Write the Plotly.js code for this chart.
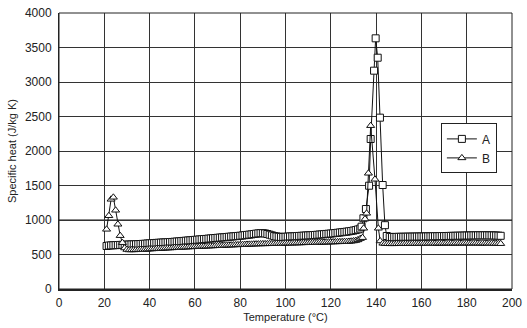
<!DOCTYPE html>
<html>
<head>
<meta charset="utf-8">
<script src="https://cdn.plot.ly/plotly-3.0.1.min.js"></script>
<style>html,body{margin:0;padding:0;background:#fff;}#chart{width:527px;height:328px;}</style>
</head>
<body>
<div id="chart"></div>
<script>
var tempA = [21,22,23,24,25,26,27,28,29,30,
  31,32,33,34,35,36,37,38,39,40,
  41,42,43,44,45,46,47,48,49,50,
  51,52,53,54,55,56,57,58,59,60,
  61,62,63,64,65,66,67,68,69,70,
  71,72,73,74,75,76,77,78,79,80,
  81,82,83,84,85,86,87,88,89,90,
  91,92,93,94,95,96,97,98,99,100,
  101,102,103,104,105,106,107,108,109,110,
  111,112,113,114,115,116,117,118,119,120,
  121,122,123,124,125,126,127,128,129,130,
  131,132,133,133.6,134.4,135.5,136.9,137.6,139.1,139.8,140.7,141.7,142.9,143.9,144.7,
  146,147,148,149,150,151,152,153,154,155,156,157,158,159,160,
  161,162,163,164,165,166,167,168,169,170,171,172,173,174,175,
  176,177,178,179,180,181,182,183,184,185,186,187,188,189,190,
  191,192,193,194,195];
var cpA = [623,630,632,634,636,637,639,640,641,643,
  644,646,647,649,650,652,654,656,659,662,
  664,665,668,670,672,674,676,678,680,682,
  685,688,690,694,697,700,703,706,709,712,
  714,718,721,724,726,730,733,736,739,742,
  745,748,750,754,757,760,763,766,769,772,
  776,780,784,788,792,797,802,806,809,809,
  805,797,787,777,767,761,757,755,755,757,
  759,761,763,764,767,769,771,773,775,777,
  779,781,783,786,789,792,795,798,801,804,
  807,811,815,819,823,827,831,836,841,847,
  854,863,876,903,1025,1159,1497,2174,3164,3633,3352,2483,1507,925,768,
  755,754,754,755,756,756,757,757,758,758,759,759,760,760,761,
  761,762,763,763,764,765,765,766,767,767,768,769,770,770,771,
  772,772,773,774,775,775,776,777,777,778,778,778,778,778,777,
  777,776,775,773,771];

var tempB = [21,22,23,24,25,26,27,28,29,30,
  31,32,33,34,35,36,37,38,39,40,
  41,42,43,44,45,46,47,48,49,50,
  51,52,53,54,55,56,57,58,59,60,
  61,62,63,64,65,66,67,68,69,70,
  71,72,73,74,75,76,77,78,79,80,
  81,82,83,84,85,86,87,88,89,90,
  91,92,93,94,95,96,97,98,99,100,
  101,102,103,104,105,106,107,108,109,110,
  111,112,113,114,115,116,117,118,119,120,
  121,122,123,124,125,126,127,128,129,130,
  131,132,133,134,134.5,135.1,135.8,136.6,137.6,139.5,141,141.8,143,
  144,145,146,147,148,149,150,151,152,153,154,155,156,157,158,159,160,
  161,162,163,164,165,166,167,168,169,170,171,172,173,174,175,
  176,177,178,179,180,181,182,183,184,185,186,187,188,189,190,
  191,192,193,194,195];
var cpB = [865,1062,1300,1329,1141,938,773,671,594,572,
  566,566,567,568,569,571,572,574,576,578,
  580,582,584,585,587,589,591,593,594,596,
  598,600,601,603,605,606,608,610,611,613,
  614,616,617,619,620,621,623,624,626,627,
  629,630,632,633,635,636,637,639,640,641,
  643,644,646,647,648,650,651,652,653,654,
  654,655,656,656,657,658,659,660,661,662,
  663,664,664,665,666,667,668,669,670,671,
  672,672,673,674,675,676,677,678,679,680,
  681,682,683,684,685,686,687,689,692,696,
  702,712,730,744,880,1014,1097,1677,2367,1590,880,696,662,
  658,656,655,655,655,656,656,656,657,657,657,658,658,658,659,659,659,
  660,660,660,661,661,661,662,662,662,662,663,663,663,663,663,
  663,663,664,664,664,664,664,664,664,663,663,663,662,662,661,
  661,660,659,658,657];

var xTicks = [0,20,40,60,80,100,120,140,160,180,200];
var yTicks = [0,500,1000,1500,2000,2500,3000,3500,4000];

var traces = [
  {x: tempA, y: cpA, name: 'A', type: 'scatter', mode: 'lines+markers',
   line: {color: '#111', width: 1},
   marker: {symbol: 'square', size: 7, color: '#fff', line: {color: '#111', width: 1}}},
  {x: tempB, y: cpB, name: 'B', type: 'scatter', mode: 'lines+markers',
   line: {color: '#111', width: 1},
   marker: {symbol: 'triangle-up', size: 7, color: '#fff', line: {color: '#111', width: 1}}}
];

var layout = {
  width: 527, height: 328,
  margin: {l: 59, r: 15, t: 13, b: 39},
  paper_bgcolor: '#fff', plot_bgcolor: '#fff',
  font: {family: 'Liberation Sans, Arial, sans-serif', size: 12, color: '#222'},
  showlegend: true,
  legend: {x: 0.843, y: 0.6, xanchor: 'left', yanchor: 'top',
    bordercolor: '#222', borderwidth: 1, bgcolor: '#fff',
    font: {size: 12, color: '#222'}, tracegroupgap: 0, itemwidth: 30},
  xaxis: {range: [0, 200], tickvals: xTicks, ticktext: xTicks.map(String),
    showgrid: true, gridcolor: '#333', gridwidth: 1, zeroline: false,
    showline: true, linecolor: '#222', linewidth: 2, mirror: false, ticks: '',
    tickfont: {size: 12}, ticklabelstandoff: 2,
    title: {text: 'Temperature (°C)', font: {size: 11}, standoff: 4}},
  yaxis: {range: [0, 4000], tickvals: yTicks, ticktext: yTicks.map(String),
    showgrid: true, gridcolor: '#333', gridwidth: 1, zeroline: false,
    showline: true, linecolor: '#222', linewidth: 1, mirror: false, ticks: '',
    tickfont: {size: 12}, ticklabelstandoff: 4,
    title: {text: 'Specific heat (J/kg K)', font: {size: 11}, standoff: 6}},
  shapes: [
    {type: 'rect', xref: 'paper', yref: 'paper', x0: 0, x1: 1, y0: 0, y1: 1,
     line: {color: '#222', width: 1}, layer: 'above'},
    {type: 'line', xref: 'paper', yref: 'y', x0: 0, x1: 1, y0: 1000, y1: 1000,
     line: {color: '#888', width: 2}, layer: 'below'}
  ]
};

Plotly.newPlot('chart', traces, layout, {displayModeBar: false, staticPlot: true});
</script>
</body>
</html>
